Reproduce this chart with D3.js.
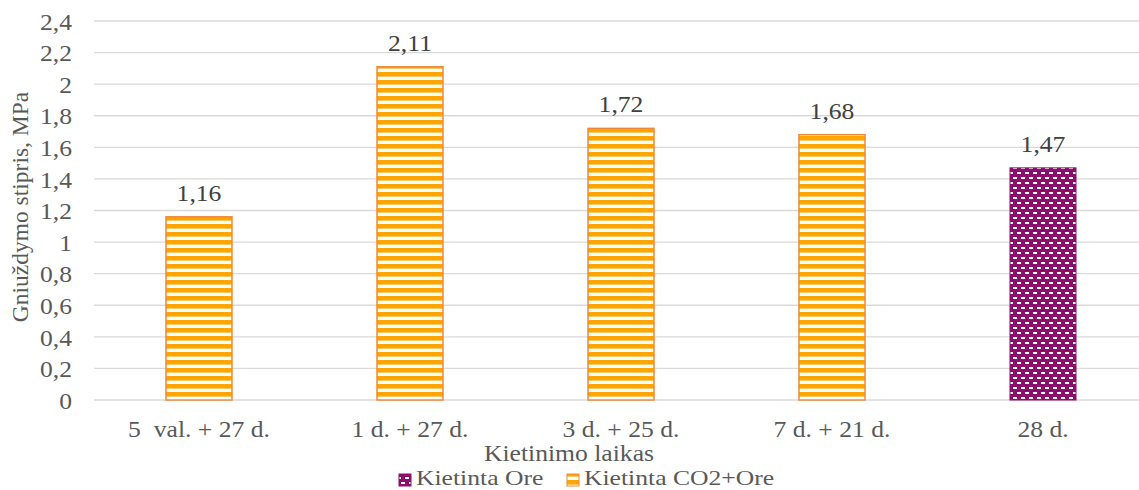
<!DOCTYPE html>
<html>
<head>
<meta charset="utf-8">
<script src="https://cdn.jsdelivr.net/npm/d3@7"></script>
<style>
  html, body { margin: 0; padding: 0; background: #fff; }
  svg { display: block; }
  text { font-family: "Liberation Serif", "Times New Roman", serif; white-space: pre; }
</style>
</head>
<body>
<svg id="chart" width="1139" height="490"></svg>
<script>
// Curing regimes and compressive strength (MPa)
const categories = ["5  val. + 27 d.", "1 d. + 27 d.", "3 d. + 25 d.", "7 d. + 21 d.", "28 d."];
const seriesNames = ["Kietinta Ore", "Kietinta CO2+Ore"];
const oreValues = [null, null, null, null, 1.47];
const co2OreValues = [1.16, 2.11, 1.72, 1.68, null];
const yTicks = [0, 0.2, 0.4, 0.6, 0.8, 1, 1.2, 1.4, 1.6, 1.8, 2, 2.2, 2.4];

const fmt = v => String(v).replace(".", ",");
const FS = 23.5;       // font size
const SX = 1.09;       // horizontal text stretch
const textGrey = "#595959";

const svg = d3.select("#chart");
const defs = svg.append("defs");

// Wide horizontal stripes for the CO2+air cured bars
const stripe = defs.append("pattern")
  .attr("id", "stripeOrange")
  .attr("patternUnits", "userSpaceOnUse")
  .attr("width", 8).attr("height", 8);
stripe.append("rect").attr("width", 8).attr("height", 8).attr("fill", "#ffffff");
stripe.append("rect").attr("y", 0).attr("width", 8).attr("height", 4.6).attr("fill", "#FFA500");

// Brick-like dashed pattern for the air cured bar
const dash = defs.append("pattern")
  .attr("id", "dashPurple")
  .attr("patternUnits", "userSpaceOnUse")
  .attr("width", 8).attr("height", 10);
dash.append("rect").attr("width", 8).attr("height", 10).attr("fill", "#8C0F6E");
dash.append("rect").attr("x", 1).attr("y", 2).attr("width", 4).attr("height", 2).attr("fill", "#ffffff");
dash.append("rect").attr("x", 5).attr("y", 7).attr("width", 4).attr("height", 2).attr("fill", "#ffffff");
dash.append("rect").attr("x", -3).attr("y", 7).attr("width", 4).attr("height", 2).attr("fill", "#ffffff");

const plotLeft = 93.5, plotRight = 1148.5, plotTop = 21, plotBottom = 400;

const x = d3.scaleBand().domain(categories).range([plotLeft, plotRight]).paddingInner(0).paddingOuter(0);
const y = d3.scaleLinear().domain([0, 2.4]).range([plotBottom, plotTop]);
const barW = 66;

// Place a stretched text at (px, py)
function label(parent, px, py, str, anchor, color, fs = FS, sx = SX) {
  return parent.append("text")
    .attr("transform", `translate(${px},${py}) scale(${sx},1)`)
    .attr("text-anchor", anchor)
    .attr("font-size", fs).attr("fill", color)
    .text(str);
}

// Gridlines
svg.append("g")
  .selectAll("line")
  .data(yTicks)
  .join("line")
  .attr("x1", 94).attr("x2", 1139)
  .attr("y1", d => y(d)).attr("y2", d => y(d))
  .attr("stroke", "#d9d9d9").attr("stroke-width", 1.3);

// Y axis tick labels
const yAxis = d3.axisLeft(y).tickValues(yTicks).tickFormat(fmt).tickSize(0).tickPadding(0);
const yg = svg.append("g").attr("transform", "translate(72,0)").call(yAxis);
yg.select(".domain").remove();
yg.selectAll("text")
  .attr("x", 0).attr("dy", "0.35em")
  .attr("transform", `scale(${SX},1)`)
  .attr("font-family", "Liberation Serif, serif")
  .attr("font-size", FS).attr("fill", textGrey);

// X axis category labels
const xAxis = d3.axisBottom(x).tickSize(0).tickPadding(0);
const xg = svg.append("g").attr("transform", `translate(0,${plotBottom})`).call(xAxis);
xg.select(".domain").remove();
xg.selectAll("text")
  .attr("y", 0).attr("dy", 0)
  .attr("transform", `translate(0,37) scale(${SX},1)`)
  .attr("font-family", "Liberation Serif, serif")
  .attr("font-size", FS).attr("fill", textGrey);

const rows = categories.map((c, i) => ({ c, ore: oreValues[i], co2: co2OreValues[i] }));

// Bars
const bars = svg.append("g");
rows.filter(d => d.co2 != null).forEach(d => {
  bars.append("rect")
    .attr("x", x(d.c) + x.bandwidth() / 2 - barW / 2)
    .attr("y", y(d.co2))
    .attr("width", barW)
    .attr("height", y(0) - y(d.co2))
    .attr("fill", "url(#stripeOrange)")
    .attr("stroke", "#F0883A").attr("stroke-width", 1.5);
});
rows.filter(d => d.ore != null).forEach(d => {
  bars.append("rect")
    .attr("x", x(d.c) + x.bandwidth() / 2 - barW / 2)
    .attr("y", y(d.ore))
    .attr("width", barW)
    .attr("height", y(0) - y(d.ore))
    .attr("fill", "url(#dashPurple)")
    .attr("stroke", "#8C0F6E").attr("stroke-width", 1);
});

// Value labels
rows.forEach(d => {
  const v = d.co2 != null ? d.co2 : d.ore;
  label(svg, x(d.c) + x.bandwidth() / 2, y(v) - 16, fmt(v), "middle", "#404040");
});

// Axis titles
svg.append("text")
  .attr("transform", "translate(28,207) rotate(-90)")
  .attr("text-anchor", "middle")
  .attr("font-size", FS).attr("fill", textGrey)
  .text("Gniuždymo stipris, MPa");

label(svg, 569, 461, "Kietinimo laikas", "middle", textGrey);

// Legend
const legend = svg.append("g");
const legendItems = [
  { name: seriesNames[0], fill: "url(#dashPurple)", stroke: "#8C0F6E", x: 399 },
  { name: seriesNames[1], fill: "url(#stripeOrange)", stroke: "#F0883A", x: 567 }
];
legendItems.forEach(it => {
  legend.append("rect")
    .attr("x", it.x).attr("y", 474).attr("width", 12).attr("height", 12)
    .attr("fill", it.fill).attr("stroke", it.stroke).attr("stroke-width", 1);
  label(legend, it.x + 17, 485, it.name, "start", textGrey, 22, 1.165);
});
</script>
</body>
</html>
